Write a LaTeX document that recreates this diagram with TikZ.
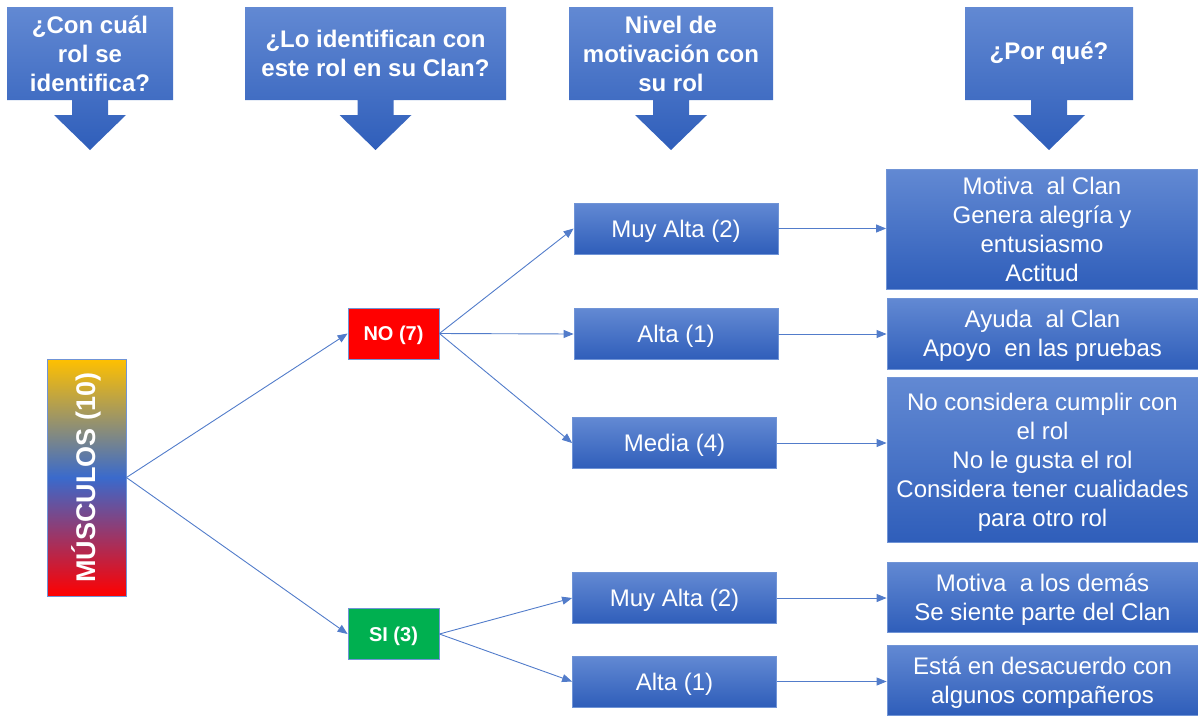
\documentclass[tikz,border=0pt]{standalone}
\usepackage{fontspec}
\setmainfont{Liberation Sans}
\usetikzlibrary{arrows.meta}
\definecolor{btop}{RGB}{98,137,211}
\definecolor{bbot}{RGB}{47,94,186}
\definecolor{bedge}{RGB}{112,148,214}
\definecolor{lnk}{RGB}{82,124,202}
\definecolor{gold}{RGB}{255,192,0}
\definecolor{mblue}{RGB}{58,106,204}
\definecolor{mred}{RGB}{255,0,0}
\definecolor{sgreen}{RGB}{0,176,80}
\pgfdeclareverticalshading{musgrad}{100bp}{color(0bp)=(mred); color(25bp)=(mred); color(50bp)=(mblue); color(75bp)=(gold); color(100bp)=(gold)}
\newcommand\hdrshape[2]{\shade[hdr] (#1,7) -- (#2,7) -- (#2,100) -- ({(#1+#2)/2+18},100) -- ({(#1+#2)/2+18},115) -- ({(#1+#2)/2+36},115) -- ({(#1+#2)/2},150) -- ({(#1+#2)/2-36},115) -- ({(#1+#2)/2-18},115) -- ({(#1+#2)/2-18},100) -- (#1,100) -- cycle;}
\begin{document}
\begin{tikzpicture}[x=1pt,y=-1pt,
  hdr/.style={top color=btop, bottom color=bbot},
  htext/.style={text=white, align=center, inner sep=0pt, font=\fontsize{24}{29}\selectfont\bfseries},
  blue box/.style={top color=btop, bottom color=bbot, draw=bedge, line width=0.8pt, text=white, align=center, inner sep=0pt, text depth=0pt},
  mid/.style={blue box, minimum width=204, minimum height=51, font=\fontsize{24}{29}\selectfont},
  rb/.style={blue box, minimum width=311, font=\fontsize{24}{29}\selectfont},
  ans/.style={draw=bedge, line width=0.8pt, text=white, minimum width=91, minimum height=51, inner sep=0pt, text depth=0pt, font=\fontsize{20}{24}\selectfont\bfseries},
  link/.style={draw=lnk, line width=0.9pt, -{Triangle[length=10pt,width=8pt]}}
]
\useasboundingbox (0,0) rectangle (1198,715);
% header callouts
\hdrshape{7}{173}
\hdrshape{245}{506}
\hdrshape{569}{773}
\hdrshape{965}{1133}
\node[htext] (h1) at (90,53.5) {¿Con cuál\\rol se\\identifica?};
\node[htext] (h2) at (375.5,53.5) {¿Lo identifican con\\este rol en su Clan?};
\node[htext] (h3) at (671,53.5) {Nivel de\\motivación con\\su rol};
\node[htext] (h4) at (1049,53.5) {¿Por qué?};
% root
\node[shading=musgrad, draw=bedge, line width=0.8pt, minimum width=79, minimum height=237, inner sep=0pt] (mus) at (86.5,477.5) {};
\node[rotate=90, text=white, font=\fontsize{27}{30}\selectfont\bfseries] (mustext) at (mus.center) {MÚSCULOS (10)};
% answers
\node[ans, fill=mred] (no) at (393.5,333.5) {NO (7)};
\node[ans, fill=sgreen] (si) at (393.5,634) {SI (3)};
% motivation
\node[mid] (m1) at (676,228.5) {Muy Alta (2)};
\node[mid] (m2) at (676,334) {Alta (1)};
\node[mid] (m3) at (674.5,443) {Media (4)};
\node[mid] (m4) at (674.5,598) {Muy Alta (2)};
\node[mid] (m5) at (674.5,681.5) {Alta (1)};
% reasons
\node[rb, minimum height=120] (r1) at (1042,229) {Motiva\ \ al Clan\\Genera alegría y\\entusiasmo\\Actitud};
\node[rb, minimum height=71] (r2) at (1042.5,333.5) {Ayuda\ \ al Clan\\Apoyo\ \ en las pruebas};
\node[rb, minimum height=165] (r3) at (1042.5,459.5) {No considera cumplir con\\el rol\\No le gusta el rol\\Considera tener cualidades\\para otro rol};
\node[rb, minimum height=70] (r4) at (1042.5,597) {Motiva\ \ a los demás\\Se siente parte del Clan};
\node[rb, minimum height=70] (r5) at (1042.5,680) {Está en desacuerdo con\\algunos compañeros};
% connectors
\draw[link] (mus.east) -- (no.west);
\draw[link] (mus.east) -- (si.west);
\draw[link] (no.east) -- (m1.west);
\draw[link] (no.east) -- (m2.west);
\draw[link] (no.east) -- (m3.west);
\draw[link] (si.east) -- (m4.west);
\draw[link] (si.east) -- (m5.west);
\draw[link] (m1.east) -- (m1.east -| r1.west);
\draw[link] (m2.east) -- (m2.east -| r2.west);
\draw[link] (m3.east) -- (m3.east -| r3.west);
\draw[link] (m4.east) -- (m4.east -| r4.west);
\draw[link] (m5.east) -- (m5.east -| r5.west);
\end{tikzpicture}
\end{document}
